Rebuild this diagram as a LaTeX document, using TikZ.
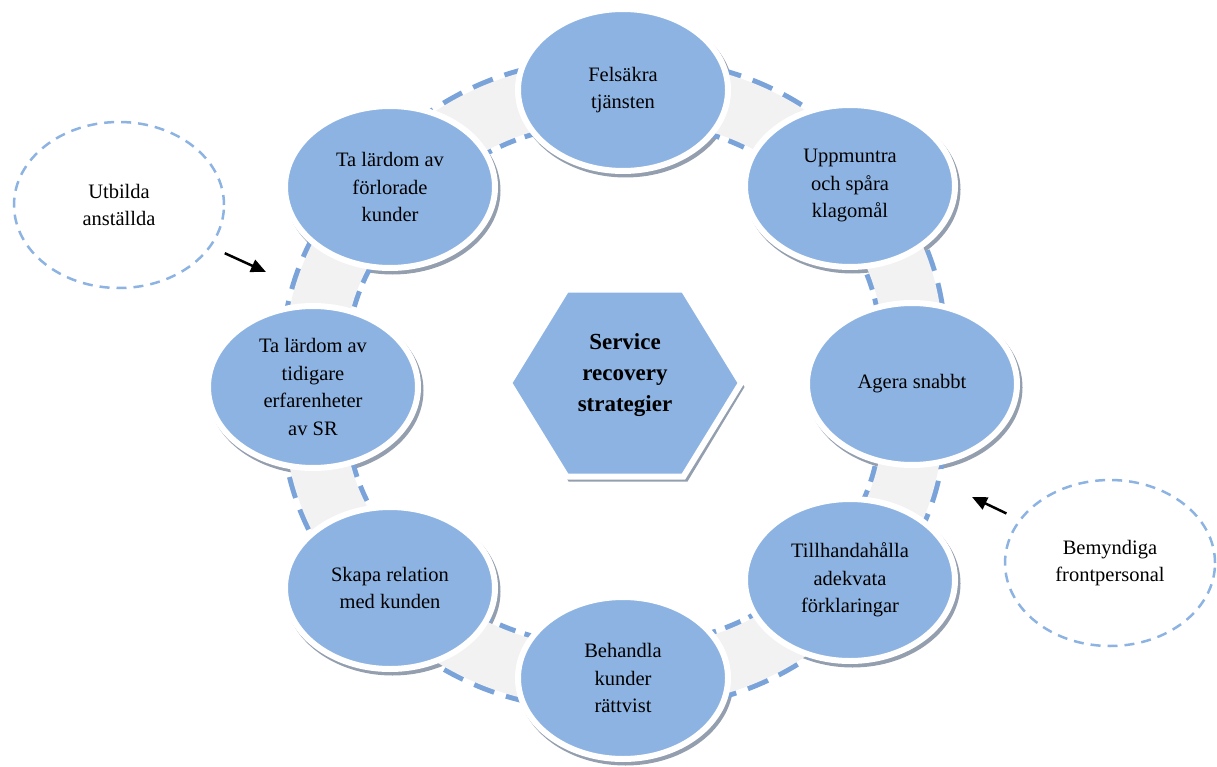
\documentclass[tikz,border=0pt]{standalone}
\usepackage{fontspec}
\setmainfont{Liberation Serif}
\usetikzlibrary{arrows.meta,shapes.geometric}
\definecolor{nodeblue}{HTML}{8DB3E2}
\definecolor{dashblue}{HTML}{7AA3DA}
\definecolor{shadowgray}{HTML}{939EAE}
\definecolor{bandgray}{HTML}{F2F2F2}
\pgfdeclarelayer{shadowlayer}
\pgfdeclarelayer{bandlayer}
\pgfsetlayers{shadowlayer,bandlayer,main}
\tikzset{
  ringnode/.style={ellipse, fill=nodeblue, draw=white, line width=6pt,
    minimum width=210pt, minimum height=162pt, inner sep=0pt, align=center,
    text=black, font=\fontsize{20.5}{27.5}\selectfont},
  sidenode/.style={ellipse, draw=nodeblue, line width=2.5pt, dash pattern=on 10pt off 7pt,
    minimum width=210pt, minimum height=166pt, inner sep=0pt, align=center,
    text=black, font=\fontsize{20.5}{27.5}\selectfont},
  hexlabel/.style={align=center, text=black, inner sep=0pt,
    font=\fontsize{23}{31}\selectfont\bfseries},
  bandedge/.style={line width=70pt, draw=dashblue, dash pattern=on 19pt off 11pt},
  bandfill/.style={line width=60pt, draw=bandgray},
  ptr/.style={line width=2.5pt, draw=black, -{Triangle[length=15pt,width=13pt]}},
  dropsh/.style={fill=shadowgray}
}
\begin{document}
\begin{tikzpicture}[x=1pt,y=1pt]
\useasboundingbox (0,0) rectangle (1217,-767);
% ring nodes
\node[ringnode] (fel)  at (623,-90)  {Felsäkra\\tjänsten};
\node[ringnode] (upp)  at (850,-186) {Uppmuntra\\och spåra\\klagomål};
\node[ringnode] (age)  at (912,-384) {Agera snabbt};
\node[ringnode] (til)  at (850,-580) {Tillhandahålla\\adekvata\\förklaringar};
\node[ringnode] (beh)  at (623,-678) {Behandla\\kunder\\rättvist};
\node[ringnode] (ska)  at (390,-588) {Skapa relation\\med kunden};
\node[ringnode] (tid)  at (313,-387) {Ta lärdom av\\tidigare\\erfarenheter\\av SR};
\node[ringnode] (forl) at (390,-187) {Ta lärdom av\\förlorade\\kunder};
% centre hexagon
\coordinate (hexc) at (625,-383);
\node[hexlabel] (hex) at (625,-375) {Service\\recovery\\strategier};
% side nodes
\node[sidenode] (utb) at (119,-205) {Utbilda\\anställda};
\node[sidenode] (bem) at (1110,-563) {Bemyndiga\\frontpersonal};
\coordinate (tipL) at (266,-272);
\coordinate (tipR) at (972,-497);
\draw[ptr, shorten <=15pt] (utb) -- (tipL);
\draw[ptr, shorten <=14pt] (bem) -- (tipR);
% shadows
\begin{pgfonlayer}{shadowlayer}
  \foreach \n in {fel,upp,age,til,beh,ska,tid,forl}
    \fill[dropsh] ([shift={(2.5,-3.5)}]\n.center) ellipse [x radius=108, y radius=84];
  \begin{scope}[shift={(hexc)}]
    \fill[dropsh] (-56.5,90.5) -- (62.5,90.5) -- (119.5,-4) -- (62.5,-98.5) -- (-56.5,-98.5) -- (-113.5,-4) -- cycle;
  \end{scope}
\end{pgfonlayer}
% connecting bands
\begin{pgfonlayer}{bandlayer}
  \foreach \a/\b in {fel/upp,upp/age,age/til,til/beh,beh/ska,ska/tid,tid/forl,forl/fel}{
    \draw[bandedge] (\a.center) to[bend left=22] (\b.center);
    \draw[bandfill] (\a.center) to[bend left=22] (\b.center);
  }
  \begin{scope}[shift={(hexc)}]
    \filldraw[fill=nodeblue, draw=white, line width=6pt, line join=miter]
      (-58.5,93.5) -- (58.5,93.5) -- (116,0) -- (58.5,-93.5) -- (-58.5,-93.5) -- (-116,0) -- cycle;
  \end{scope}
\end{pgfonlayer}
\end{tikzpicture}
\end{document}
